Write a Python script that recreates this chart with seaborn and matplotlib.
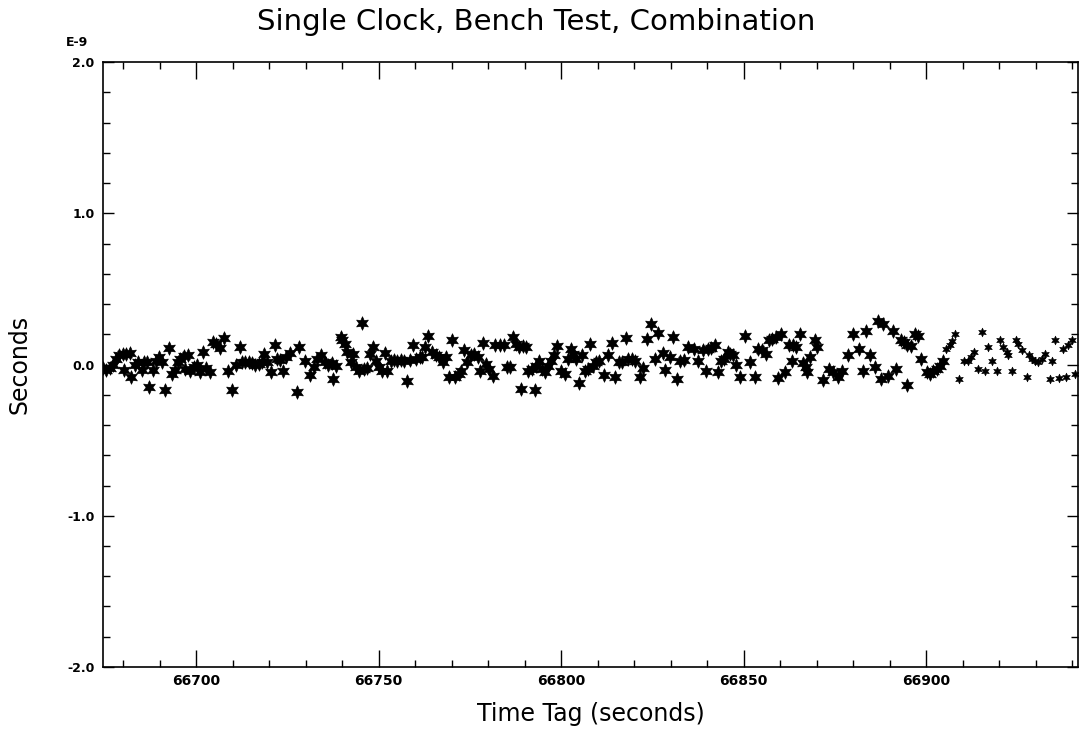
import numpy as np
import pandas as pd
import matplotlib
matplotlib.use("Agg")
import matplotlib.pyplot as plt
from matplotlib.ticker import MultipleLocator, FixedLocator, FixedFormatter
import seaborn as sns

# time tags (s) and clock offset (units of 1e-9 s)
time_tag = [
    66674.4, 66675.3, 66676.3, 66677.2, 66678.1, 66679.0, 66679.9, 66680.3, 66680.8, 66681.8,
    66682.1, 66683.3, 66684.2, 66685.1, 66685.8, 66686.5, 66687.2, 66688.2, 66689.1, 66689.8,
    66690.6, 66691.5, 66692.5, 66693.4, 66694.3, 66695.0, 66695.7, 66696.6, 66697.0, 66697.7,
    66698.4, 66699.3, 66700.2, 66701.0, 66701.9, 66702.8, 66703.9, 66704.6, 66705.5, 66706.5,
    66707.7, 66708.8, 66709.8, 66710.8, 66711.9, 66712.6, 66713.5, 66714.4, 66715.3, 66716.2,
    66717.2, 66718.1, 66718.7, 66719.5, 66720.5, 66721.5, 66722.2, 66723.1, 66723.7, 66724.6,
    66725.7, 66727.7, 66728.2,
    66729.9, 66731.3, 66732.2, 66733.1, 66734.3, 66735.3, 66736.2, 66737.4, 66737.3, 66738.4,
    66739.6, 66740.0, 66740.7, 66741.4, 66742.3, 66742.9, 66743.7, 66744.6, 66745.5, 66746.0,
    66746.9, 66747.5, 66748.4, 66749.2, 66750.1, 66750.8, 66751.7, 66752.4, 66753.3, 66754.2,
    66755.1, 66756.0, 66756.9, 66757.7, 66758.5, 66759.4, 66760.3, 66761.2, 66762.0, 66762.7,
    66763.6, 66764.7, 66765.6, 66766.5, 66767.5, 66768.4, 66769.3, 66770.0, 66770.9, 66771.9,
    66772.5, 66773.4, 66774.3, 66775.2, 66776.2, 66777.1, 66777.7, 66778.6, 66779.5, 66780.3,
    66781.2, 66781.9,
    66783.3, 66784.4, 66785.1, 66786.0, 66786.9, 66787.6, 66788.5, 66789.1, 66789.4, 66790.3,
    66790.9, 66791.9, 66792.8, 66793.1, 66794.0, 66794.6, 66795.5, 66796.3, 66797.2, 66797.9,
    66798.8, 66799.9, 66801.0, 66801.9, 66802.8, 66803.1, 66804.0, 66804.9, 66805.6, 66806.5,
    66807.4, 66808.0, 66808.6, 66809.5, 66810.4, 66811.8, 66812.9, 66813.8, 66814.7, 66815.7,
    66816.6, 66817.8, 66818.4, 66819.3, 66820.2, 66821.7, 66822.3, 66823.5, 66824.6, 66825.7,
    66826.6, 66827.8, 66828.5, 66829.7, 66830.6, 66831.8, 66832.4, 66833.6, 66834.7,
    66836.5, 66837.4, 66838.8, 66839.7, 66840.1, 66841.1, 66842.0, 66842.9, 66843.8, 66844.7,
    66845.6, 66846.3, 66847.0, 66847.9, 66849.0, 66850.2, 66851.6, 66853.0, 66853.9, 66855.1,
    66856.0, 66856.9, 66857.8, 66858.7, 66859.4, 66860.3, 66861.2, 66862.4, 66863.3, 66863.5,
    66864.4, 66865.3, 66866.2, 66867.0, 66867.3, 66868.2, 66869.4, 66870.1, 66871.7, 66873.4,
    66874.5, 66875.8, 66877.0, 66878.6, 66879.8, 66881.6, 66882.7, 66883.6, 66884.7, 66885.9,
    66886.8, 66887.7, 66888.2,
    66889.5, 66890.9, 66891.8, 66893.0, 66893.9, 66894.8, 66894.8, 66895.8, 66896.9, 66897.6,
    66898.5, 66900.1, 66901.0, 66901.9, 66902.8, 66903.7, 66904.6, 66905.5, 66906.5, 66907.1,
    66907.8, 66908.9, 66910.4, 66911.3, 66912.2, 66913.1, 66914.1, 66915.2, 66916.1, 66917.0,
    66918.1, 66919.3, 66920.2, 66921.1, 66922.0, 66922.5, 66923.4, 66924.5, 66925.2, 66926.1,
    66927.5, 66928.0, 66928.9, 66929.8, 66930.7, 66931.6, 66932.5, 66933.9, 66934.5, 66935.3,
    66936.4, 66937.3, 66938.2, 66938.8, 66939.9, 66940.6,
]
offset = [
    -0.02, -0.035, -0.02, 0.0, 0.04, 0.06, 0.07, -0.035, 0.07, 0.075,
    -0.08, 0.0, 0.02, -0.035, 0.02, 0.015, -0.15, -0.035, 0.025, 0.05,
    0.02, -0.17, 0.11, -0.065, -0.035, 0.015, 0.04, 0.055, -0.03, 0.065,
    -0.045, -0.015, 0.0, -0.05, 0.08, -0.02, -0.05, 0.15, 0.135, 0.11,
    0.175, -0.04, -0.17, 0.0, 0.115, 0.015, 0.02, 0.015, 0.01, 0.0,
    0.005, 0.02, 0.07, 0.015, -0.05, 0.13, 0.04, 0.03, -0.04, 0.05,
    0.075, -0.18, 0.115,
    0.026, -0.07, -0.018, 0.037, 0.06, 0.015, 0.0, -0.095, 0.01, -0.007,
    0.18, 0.16, 0.137, 0.082, 0.015, 0.07, -0.018, -0.04, 0.276, -0.03,
    -0.022, 0.07, 0.115, 0.026, -0.018, -0.04, 0.075, -0.04, 0.026, 0.03,
    0.026, 0.03, 0.022, -0.106, 0.03, 0.13, 0.037, 0.048, 0.048, 0.115,
    0.192, 0.082, 0.06, 0.048, 0.015, 0.048, -0.08, 0.16, -0.084, -0.062,
    -0.04, 0.097, 0.015, 0.06, 0.07, 0.048, -0.04, 0.141, 0.004, -0.03,
    -0.073, 0.126,
    0.126, 0.126, -0.018, -0.013, 0.18, 0.137, 0.115, -0.161, 0.12, 0.115,
    -0.04, -0.03, -0.168, -0.007, 0.026, -0.03, -0.051, -0.007, 0.026, 0.06,
    0.12, -0.04, -0.062, 0.037, 0.104, 0.07, 0.037, -0.124, 0.06, -0.04,
    -0.03, 0.137, -0.007, 0.015, 0.026, -0.068, 0.06, 0.141, -0.082, 0.015,
    0.015, 0.177, 0.037, 0.037, 0.026, -0.084, -0.022, 0.17, 0.27, 0.037,
    0.207, 0.075, -0.035, 0.048, 0.185, -0.095, 0.026, 0.03, 0.115,
    0.104, 0.026, 0.097, -0.04, 0.104, 0.11, 0.126, -0.051, 0.026, 0.037,
    0.082, 0.07, 0.06, 0.0, -0.08, 0.188, 0.015, -0.08, 0.104, 0.093,
    0.07, 0.16, 0.17, 0.18, -0.088, 0.203, -0.051, 0.126, 0.022, 0.126,
    0.115, 0.203, 0.009, -0.018, -0.051, 0.048, 0.16, 0.115, -0.102, -0.029,
    -0.051, -0.08, -0.04, 0.06, 0.203, 0.104, -0.04, 0.22, 0.064, -0.013,
    0.29, -0.095, 0.27,
    -0.073, 0.225, -0.029, 0.163, 0.148, 0.126, -0.133, 0.12, 0.203, 0.192,
    0.037, -0.051, -0.062, -0.04, -0.029, -0.007, 0.026, 0.104, 0.126, 0.159,
    0.199, -0.095, 0.026, 0.026, 0.048, 0.082, -0.029, 0.214, -0.044, 0.115,
    0.026, -0.04, 0.163, 0.115, 0.082, 0.06, -0.04, 0.163, 0.137, 0.093,
    -0.08, 0.06, 0.037, 0.026, 0.015, 0.037, 0.07, -0.095, 0.026, 0.163,
    -0.088, 0.104, -0.08, 0.132, 0.163, -0.062,
]

x_ticks = [66700, 66750, 66800, 66850, 66900]
y_ticks = [-2.0, -1.0, 0.0, 1.0, 2.0]
y_tick_labels = ["-2.0", "-1.0", "0.0", "1.0", "2.0"]

df = pd.DataFrame({"time": time_tag, "offset": offset})
late = df["time"] > 66905  # later points were plotted with smaller stars

sns.set_style("ticks")
plt.rcParams["font.family"] = ["DejaVu Sans"]
plt.rcParams["text.color"] = "black"
plt.rcParams["axes.labelcolor"] = "black"
plt.rcParams["xtick.color"] = "black"
plt.rcParams["ytick.color"] = "black"

fig = plt.figure(figsize=(10.8, 7.31), dpi=100)
ax = fig.add_axes([0.0954, 0.0876, 0.9026, 0.8274])

star = (6, 1, 0)
sns.scatterplot(data=df[~late], x="time", y="offset", marker=star, s=95,
                color="black", edgecolor="black", linewidth=0.5, ax=ax, legend=False)
sns.scatterplot(data=df[late], x="time", y="offset", marker=star, s=40,
                color="black", edgecolor="black", linewidth=0.4, ax=ax, legend=False)

ax.set_xlim(66674.5, 66941.5)
ax.set_ylim(-2.0, 2.0)
ax.xaxis.set_major_locator(FixedLocator(x_ticks))
ax.xaxis.set_minor_locator(MultipleLocator(10))
ax.yaxis.set_major_locator(FixedLocator(y_ticks))
ax.yaxis.set_major_formatter(FixedFormatter(y_tick_labels))
ax.yaxis.set_minor_locator(MultipleLocator(0.2))

ax.tick_params(which="both", direction="in", top=True, right=True, color="black")
ax.tick_params(axis="x", which="major", length=12, width=1.0, labelsize=10, pad=5)
ax.tick_params(axis="x", which="minor", length=5, width=1.0)
ax.tick_params(axis="y", which="major", length=8, width=1.0, labelsize=9, pad=6)
ax.tick_params(axis="y", which="minor", length=5, width=1.0)
for lab in ax.get_xticklabels() + ax.get_yticklabels():
    lab.set_fontweight("bold")

for sp in ax.spines.values():
    sp.set_color("black")
    sp.set_linewidth(1.2)

ax.set_xlabel("Time Tag (seconds)", fontsize=17, labelpad=10)
ax.set_ylabel("Seconds", fontsize=17, labelpad=26)

fig.text(0.238, 0.959, "Single Clock, Bench Test, Combination", fontsize=21,
         ha="left", va="baseline")
fig.text(0.061, 0.937, "E-9", fontsize=9, fontweight="bold", ha="left", va="baseline")

fig.savefig("out.png", dpi=100)
